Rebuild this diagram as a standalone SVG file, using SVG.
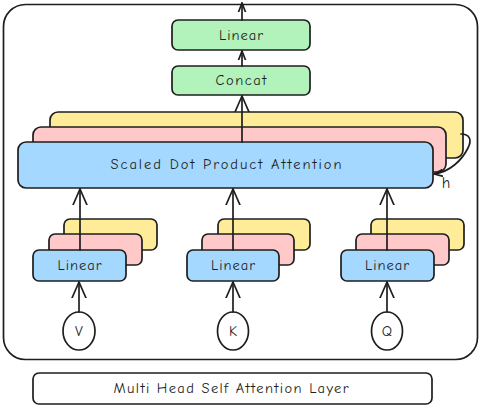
<svg xmlns="http://www.w3.org/2000/svg" width="484" height="409" viewBox="0 0 484 409">
<style>
.box{stroke:#1e1e1e;stroke-width:1.7;stroke-linejoin:round}
.g{fill:#b2f2bb}.b{fill:#a5d8ff}.p{fill:#ffc9c9}.y{fill:#ffec99}.w{fill:#ffffff}
.t{font-family:"Comic Neue","Liberation Sans",sans-serif;font-size:14.5px;fill:#1e1e1e;text-anchor:middle;dominant-baseline:central}
.c{fill:none;stroke:#1e1e1e;stroke-width:1.7;stroke-linecap:round;stroke-linejoin:round}
</style>
<defs>
<marker id="ah" markerUnits="userSpaceOnUse" markerWidth="20" markerHeight="20" viewBox="0 0 20 20" refX="16" refY="10" orient="auto">
<path d="M0,3 L16,10 L0,17" fill="none" stroke="#1e1e1e" stroke-width="1.7" stroke-linecap="round" stroke-linejoin="round"/>
</marker>
<marker id="as" markerUnits="userSpaceOnUse" markerWidth="12" markerHeight="12" viewBox="0 0 12 12" refX="9" refY="6" orient="auto">
<path d="M0,2.5 L9,6 L0,9.5" fill="none" stroke="#1e1e1e" stroke-width="1.7" stroke-linecap="round" stroke-linejoin="round"/>
</marker>
</defs>
<rect width="484" height="409" fill="#ffffff"/>
<g id="container"><rect class="box" x="3.5" y="4.5" width="474" height="355" rx="22" fill="none"/></g>
<g id="linear-out"><rect class="box g" x="172" y="20" width="138" height="30" rx="6"/><text class="t" x="241" y="35" textLength="44">Linear</text></g>
<g id="concat"><rect class="box g" x="172" y="66" width="138" height="29" rx="6"/><text class="t" x="241" y="80.5" textLength="51">Concat</text></g>
<g id="sdpa-3"><rect class="box y" x="50" y="112" width="413" height="46" rx="8"/></g>
<g id="sdpa-2"><rect class="box p" x="33" y="127" width="413" height="45" rx="8"/></g>
<g id="sdpa"><rect class="box b" x="18" y="142" width="415" height="46" rx="8"/><text class="t" x="226" y="164" textLength="231">Scaled Dot Product Attention</text></g>
<g id="lin-v">
<rect class="box y" x="64" y="219" width="93" height="31" rx="6"/>
<rect class="box p" x="49" y="234" width="93" height="31" rx="6"/>
<rect class="box b" x="33" y="250" width="93" height="31" rx="6"/>
<text class="t" x="79.5" y="265.5" textLength="44">Linear</text>
</g>
<g id="lin-k">
<rect class="box y" x="218" y="219" width="92" height="31" rx="6"/>
<rect class="box p" x="202" y="234" width="92" height="31" rx="6"/>
<rect class="box b" x="187" y="250" width="92" height="31" rx="6"/>
<text class="t" x="233" y="265.5" textLength="44">Linear</text>
</g>
<g id="lin-q">
<rect class="box y" x="371" y="219" width="93" height="31" rx="6"/>
<rect class="box p" x="356" y="234" width="93" height="31" rx="6"/>
<rect class="box b" x="341" y="250" width="93" height="31" rx="6"/>
<text class="t" x="387" y="265.5" textLength="44">Linear</text>
</g>
<g id="v"><ellipse class="box w" cx="79" cy="331" rx="16" ry="19"/><text class="t" x="79" y="331">V</text></g>
<g id="k"><ellipse class="box w" cx="233" cy="331" rx="15.5" ry="19"/><text class="t" x="233" y="331">K</text></g>
<g id="q"><ellipse class="box w" cx="387" cy="331" rx="15.5" ry="19"/><text class="t" x="387" y="331">Q</text></g>
<g id="label"><rect class="box w" x="33" y="373" width="399" height="31" rx="6"/><text class="t" x="231" y="388.5" textLength="235">Multi Head Self Attention Layer</text></g>
<g id="h-label"><text class="t" x="446" y="183" style="font-size:16px">h</text></g>
<g id="connectors">
<line class="c" x1="242" y1="20" x2="242" y2="3" marker-end="url(#as)"/>
<line class="c" x1="242" y1="66" x2="242" y2="51" marker-end="url(#as)"/>
<line class="c" x1="242" y1="142" x2="242" y2="96" marker-end="url(#ah)"/>
<line class="c" x1="80" y1="250" x2="80" y2="189" marker-end="url(#ah)"/>
<line class="c" x1="233" y1="250" x2="233" y2="189" marker-end="url(#ah)"/>
<line class="c" x1="387" y1="250" x2="387" y2="189" marker-end="url(#ah)"/>
<line class="c" x1="79" y1="312" x2="79" y2="282" marker-end="url(#ah)"/>
<line class="c" x1="233" y1="312" x2="233" y2="282" marker-end="url(#ah)"/>
<line class="c" x1="387" y1="312" x2="387" y2="282" marker-end="url(#ah)"/>
<path class="c" d="M461,134 C470,134 472,140 468,148 C462,160 450,172 434,174" marker-end="url(#as)"/>
</g>
</svg>
